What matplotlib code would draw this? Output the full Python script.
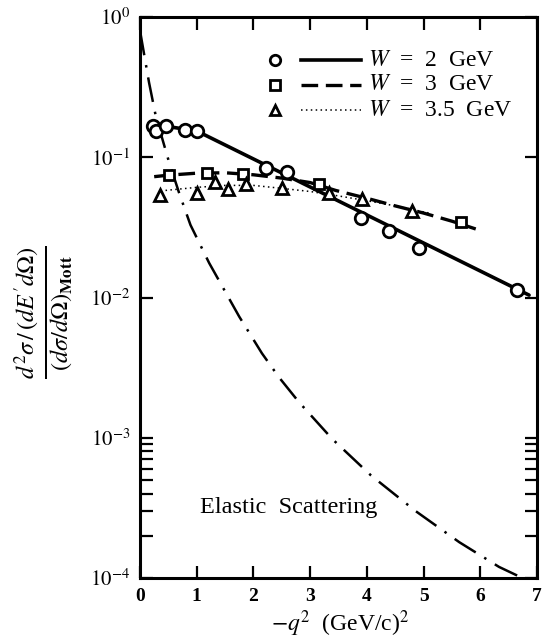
import matplotlib
matplotlib.use("Agg")
import matplotlib.pyplot as plt
from matplotlib.ticker import FixedLocator, NullFormatter

plt.rcParams['font.family'] = ['Liberation Serif', 'DejaVu Serif']
plt.rcParams['mathtext.fontset'] = 'stix'

# ---- data ----
q_w2 = [0.23, 0.28, 0.46, 0.79, 1.01, 2.22, 2.59, 3.90, 4.39, 4.92, 6.65]
r_w2 = [0.167, 0.154, 0.167, 0.156, 0.154, 0.0838, 0.0785, 0.0369, 0.0298, 0.0225, 0.0113]
fit_q_w2 = [0.33, 0.6, 1.0, 6.86]
fit_r_w2 = [0.167, 0.163, 0.154, 0.0104]

q_w3 = [0.51, 1.18, 1.82, 3.16, 5.66]
r_w3 = [0.0747, 0.0776, 0.076, 0.0645, 0.0345]
fit_q_w3 = [0.25, 0.5, 1.0, 1.5, 2.0, 2.5, 3.0, 3.45, 4.0, 4.5, 5.0, 5.5, 5.92]
fit_r_w3 = [0.0727, 0.0745, 0.077, 0.0775, 0.075, 0.071, 0.066, 0.058, 0.051, 0.045, 0.040, 0.035, 0.0308]

q_w35 = [0.36, 1.01, 1.32, 1.56, 1.87, 2.50, 3.33, 3.92, 4.79]
r_w35 = [0.0538, 0.0559, 0.067, 0.059, 0.0645, 0.060, 0.0553, 0.050, 0.0416]
fit_q_w35 = [0.45, 1.0, 1.5, 2.0, 2.5, 3.0, 3.5, 4.0, 4.5, 5.1]
fit_r_w35 = [0.058, 0.061, 0.063, 0.063, 0.060, 0.057, 0.053, 0.049, 0.045, 0.040]

q_el = [0.0, 0.16, 0.28, 0.51, 0.69, 0.89, 1.22, 1.75, 2.15, 2.45, 2.80, 3.39, 4.07, 4.86, 5.63, 6.33, 6.8]
r_el = [0.8, 0.34, 0.195, 0.093, 0.0556, 0.0329, 0.0176, 0.0073, 0.0040, 0.0027, 0.0018,
        0.00098, 0.00054, 0.00030, 0.00018, 0.00012, 0.0000975]

x_ticks = [0, 1, 2, 3, 4, 5, 6, 7]
y_ticks = [1e-4, 1e-3, 1e-2, 1e-1, 1e0]
y_ticklabels = [r'$10^{-4}$', r'$10^{-3}$', r'$10^{-2}$', r'$10^{-1}$', r'$10^{0}$']
legend_labels = [r'$W$  =  2  GeV', r'$W$  =  3  GeV', r'$W$  =  3.5  GeV']

fig = plt.figure(figsize=(5.44, 6.42), dpi=100)
ax = fig.add_axes([140/544, 1-578/642, (537-140)/544, (578-17)/642])
ax.set_yscale('log')
ax.set_xlim(0, 7)
ax.set_ylim(1e-4, 1)

k = 'black'
# fitted curves
ax.plot(fit_q_w2, fit_r_w2, color=k, lw=2.6, solid_capstyle='round', zorder=3)
ax.plot(fit_q_w3, fit_r_w3, color=k, lw=2.4, dashes=(5, 2.3), zorder=3)
ax.plot(fit_q_w35, fit_r_w35, color=k, lw=1.1, dashes=(1, 2.2), zorder=3)
ax.plot(q_el, r_el, color=k, lw=1.8, dashes=(10, 4, 1, 4), zorder=3)

mk = dict(color='none', markerfacecolor='white', markeredgecolor=k, markeredgewidth=2.0, zorder=4, clip_on=False)
ax.plot(q_w2, r_w2, marker='o', markersize=9, linestyle='none', **mk)
ax.plot(q_w3, r_w3, marker='s', markersize=7.8, linestyle='none', **mk)
ax.plot(q_w35, r_w35, marker='^', markersize=8.5, linestyle='none', **mk)

# legend drawn manually
rows = [1-(60-17)/561, 1-(85-17)/561, 1-(110-17)/561]
markers = ['o', 's', '^']
msizes = [7.5, 7, 7.5]
styles = [dict(lw=2.6), dict(lw=2.4, dashes=(5, 2.3)), dict(lw=1.1, dashes=(1, 2.2))]
for yy, m, ms, st, lab in zip(rows, markers, msizes, styles, legend_labels):
    ax.plot([0.34], [yy], marker=m, markersize=ms, markerfacecolor='white',
            markeredgecolor=k, markeredgewidth=2.0, transform=ax.transAxes, linestyle='none')
    ax.plot([0.405, 0.557], [yy, yy], color=k, transform=ax.transAxes, **st)
    ax.text(0.575, yy, lab, transform=ax.transAxes, fontsize=17, va='center', ha='left')

ax.text(1.06, 3.2e-4, 'Elastic  Scattering', fontsize=17.5, va='center', ha='left')

# axes styling
for s in ax.spines.values():
    s.set_linewidth(2.2)
ax.set_xticks(x_ticks)
ax.set_xticklabels([str(v) for v in x_ticks], fontsize=14, fontweight='bold')
ax.set_yticks(y_ticks)
ax.set_yticklabels(y_ticklabels, fontsize=15)
ax.yaxis.set_minor_locator(FixedLocator([m * 1e-4 for m in range(2, 10)]))
ax.yaxis.set_minor_formatter(NullFormatter())
ax.xaxis.set_minor_locator(FixedLocator([]))
ax.tick_params(axis='both', which='major', direction='in', length=9, width=1.6,
               top=True, right=True, pad=7)
ax.tick_params(axis='y', which='minor', direction='in', length=9, width=1.6, right=True)

fig.text(340/544, 1-624/642, r'$-q^{2}$  (GeV/c)$^{2}$', fontsize=17,
         ha='center', va='center')
fig.text(44/544, 1-312/642,
         r'$\frac{d^{2}\sigma\,/\,(dE^{\prime}d\Omega)}{(d\sigma/d\Omega)_{\mathbf{Mott}}}$',
         rotation=90, fontsize=25, ha='center', va='center')

fig.savefig('out.png', dpi=100)
